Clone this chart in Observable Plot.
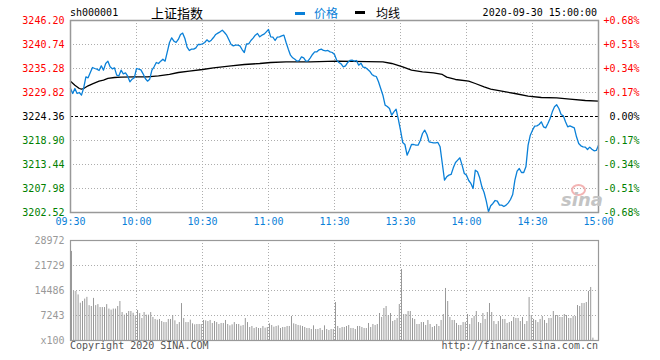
<!DOCTYPE html>
<html>
<head>
<meta charset="utf-8">
<script src="https://cdn.jsdelivr.net/npm/d3@7"></script>
<script src="https://cdn.jsdelivr.net/npm/@observablehq/plot@0.6"></script>
<style>
  body { margin: 0; background: #fff; }
  #wrap { position: relative; width: 660px; height: 360px; overflow: hidden; background: #fff; }
  #wrap > div.t { position: absolute; white-space: pre; }
  .mono { font-family: "DejaVu Sans Mono", monospace; font-size: 10px; line-height: 12px; }
  .cjk { font-family: "Noto Sans CJK SC", sans-serif; }
  #p1, #p2 { position: absolute; left: 0; }
  #p1 { top: 0; }
  #p2 { top: 232px; }
</style>
</head>
<body>
<div id="wrap">
  <div id="p1"></div>
  <div id="p2"></div>
  <div class="t mono" style="left:70px;top:7px;color:#000;">sh000001</div>
  <div class="t cjk" style="left:151px;top:4px;font-size:13px;line-height:18px;color:#000;">上证指数</div>
  <div class="t" style="left:295px;top:12px;width:10px;height:3px;background:#0a80d8;"></div>
  <div class="t cjk" style="left:314px;top:5px;font-size:12px;line-height:16px;color:#0a80d8;">价格</div>
  <div class="t" style="left:355px;top:11px;width:10px;height:3px;background:#000;"></div>
  <div class="t cjk" style="left:376px;top:5px;font-size:12px;line-height:16px;color:#000;">均线</div>
  <div class="t mono" style="right:63px;top:7px;color:#000;">2020-09-30 15:00:00</div>
  <div class="t mono" style="left:70px;top:340px;color:#555;">Copyright 2020 SINA.COM</div>
  <div class="t mono" style="right:62px;top:340px;color:#555;">http://finance.sina.com.cn</div>
  <div class="t" style="left:571px;top:184px;width:11px;height:8px;border-radius:50%;border:2px solid #f3b4b4;"></div>
  <div class="t" style="left:561px;top:190px;font-family:'DejaVu Sans',sans-serif;font-size:18px;font-weight:bold;font-style:italic;color:#c4c4c4;line-height:20px;">sina</div>
</div>
<script>
const preClose = 3224.36;
const priceTicks = [3202.52, 3207.98, 3213.44, 3218.90, 3224.36, 3229.82, 3235.28, 3240.74, 3246.20];
const pctLabels = ["-0.68%", "-0.51%", "-0.34%", "-0.17%", "0.00%", "+0.17%", "+0.34%", "+0.51%", "+0.68%"];
const timeTicks = [0, 30, 60, 90, 120, 150, 180, 210, 240];
const timeLabels = ["09:30", "10:00", "10:30", "11:00", "11:30", "13:30", "14:00", "14:30", "15:00"];
const volTicks = [0, 7243, 14486, 21729, 28972];
const volLabels = ["x100", "7243", "14486", "21729", "28972"];

// price per minute (index = minutes since 09:30, trading minutes only)
const price = [
3230.73, 3229.59, 3230.73, 3229.59, 3229.82, 3229.21, 3230.88, 3233.39, 3233.16, 3234.37,
3235.51, 3235.28, 3235.13, 3234.83, 3235.89, 3234.90, 3236.42, 3236.95, 3235.66, 3235.20,
3235.43, 3233.76, 3233.61, 3234.90, 3234.07, 3234.29, 3233.54, 3232.25, 3232.85, 3233.16,
3235.28, 3235.13, 3234.98, 3234.07, 3233.01, 3232.40, 3232.85, 3234.90, 3235.66, 3236.65,
3236.42, 3236.95, 3237.40, 3236.95, 3239.07, 3241.20, 3242.26, 3241.50, 3241.20, 3241.88,
3243.02, 3243.32, 3242.11, 3240.13, 3239.38, 3239.68, 3239.68, 3239.98, 3240.74, 3240.74,
3240.89,
3241.20, 3241.80, 3241.35, 3241.73, 3242.33, 3243.02, 3243.32, 3243.62, 3244.00, 3243.47,
3242.86, 3241.80, 3240.74, 3240.44, 3240.59, 3240.59, 3240.44, 3239.60, 3238.92, 3240.89,
3240.89, 3241.65, 3242.18, 3242.86, 3243.24, 3242.48, 3242.86, 3243.09, 3243.62, 3244.15,
3242.48, 3242.41, 3241.65, 3242.41, 3242.48, 3242.71, 3242.86, 3241.20, 3239.68, 3238.31,
3237.71, 3237.40, 3236.95, 3237.10, 3237.93, 3237.71, 3236.95, 3237.02, 3237.71, 3238.47,
3239.07, 3239.07, 3239.53, 3239.68, 3239.38, 3239.30, 3239.38, 3239.07, 3238.92, 3238.47,
3237.18, 3236.65, 3236.34, 3235.66, 3235.89, 3236.65, 3237.10, 3237.18, 3236.95, 3237.10,
3236.04, 3236.49, 3235.58, 3235.51, 3235.13, 3234.67, 3233.92, 3233.61, 3233.46, 3232.25,
3230.73, 3229.21, 3226.94, 3226.64, 3226.18, 3224.66, 3225.42, 3226.03, 3223.75, 3221.25,
3218.45, 3217.99, 3215.57, 3216.70, 3217.99, 3217.99, 3217.84, 3217.84, 3218.90, 3220.49,
3221.25, 3220.27, 3218.60, 3218.45, 3218.37, 3218.37, 3218.45, 3217.46, 3213.67, 3209.88,
3210.64, 3211.02, 3211.17, 3212.68, 3213.90, 3214.43, 3214.96, 3213.29, 3211.39, 3211.02,
3209.80, 3209.12, 3207.98, 3212.15, 3211.77, 3210.41, 3208.36, 3207.07, 3205.10, 3202.67,
3204.04, 3204.57, 3205.25, 3205.10, 3204.19, 3204.19, 3203.89, 3204.19, 3204.72, 3205.48,
3206.62, 3209.88, 3211.93, 3212.53, 3211.62, 3211.62, 3212.91, 3217.84, 3220.11, 3221.25,
3222.16, 3222.24, 3222.54, 3223.15, 3222.01, 3221.78, 3222.77, 3223.91, 3225.42, 3226.56,
3227.02, 3226.18, 3224.82, 3224.51, 3223.15, 3222.01, 3222.24, 3222.01, 3221.78, 3219.74,
3218.22, 3217.69, 3217.46, 3217.39, 3216.85, 3217.39, 3216.93, 3216.55, 3216.63, 3217.84
];

// average-price line, read at its turning points
const avgMinute = [0,2,4,5,6,8,10,13,15,17,20,23,29,35,40,45,49,54,60,65,73,79,86,91,98,109,121,142,146,151,155,160,165,169,171,175,181,184,188,191,196,202,208,214,221,227,234,240];
const avgPrice = [3232.40,3231.49,3230.73,3230.58,3230.73,3231.34,3231.79,3232.40,3232.63,3233.01,3233.23,3233.31,3233.39,3233.39,3233.61,3233.92,3234.37,3234.67,3235.05,3235.43,3235.89,3236.19,3236.42,3236.65,3236.80,3236.80,3236.95,3236.80,3236.42,3235.66,3234.90,3234.52,3234.29,3233.92,3233.31,3232.78,3232.40,3231.87,3231.11,3230.58,3230.12,3229.59,3228.99,3228.68,3228.61,3228.30,3228.00,3227.85];

// volume per minute (x100 shares)
const volume = [
25800, 14200, 14200, 13200, 10800, 11300, 12000, 12500, 10100, 9850,
12200, 10100, 10400, 9550, 9550, 9550, 10400, 9100, 8800, 9100,
9100, 9850, 11300, 8100, 7340, 7800, 8400, 8400, 7900, 7150,
8700, 7800, 6380, 8100, 7340, 7340, 8100, 6670, 6090, 5890,
6090, 5500, 5200, 5200, 6090, 6090, 7240, 5700, 4640, 5200,
10700, 6380, 5200, 5200, 5890, 4830, 4540, 4640, 4640, 4640,
5800, 5700, 5500, 5800, 4930, 5500, 5200, 4640, 4930, 4930,
5800, 4640, 4250, 4540, 5200, 4640, 4640, 4150, 4350, 6380,
5200, 3770, 4060, 3480, 3770, 3480, 3480, 4060, 3570, 3770,
4830, 4350, 3860, 4060, 4250, 3480, 3770, 3770, 4060, 4060,
6960, 4830, 4640, 4350, 4250, 4060, 3770, 3480, 3480, 3190,
4250, 3190, 3190, 3480, 2900, 4250, 3190, 2900, 3190, 3190,
11000, 4060, 3480, 3770, 3770, 4060, 4350, 3480, 3480, 3190,
4060, 4060, 3770, 3480, 3480, 4930, 3770, 4640, 4350, 4640,
7820, 6670, 9270, 9850, 7240, 7820, 5500, 5800, 6380, 10430,
20580, 7530, 7530, 8400, 8400, 6380, 6090, 4640, 4640, 5200,
5200, 4350, 5800, 4640, 3770, 4060, 4640, 4060, 5800, 7530,
15070, 11300, 6670, 5800, 5800, 4930, 4350, 4350, 5200, 5200,
7530, 4640, 6380, 6960, 8400, 5200, 4930, 7820, 6090, 8110,
10720, 8110, 5500, 4640, 5500, 6960, 6090, 6090, 4930, 5200,
5500, 6670, 6380, 6380, 5500, 6670, 4640, 5500, 12460, 7240,
6090, 5800, 5200, 6090, 6960, 5800, 4930, 6380, 6380, 8400,
7240, 7240, 6670, 6670, 7530, 7240, 6380, 6380, 6960, 6960,
10140, 9850, 10720, 10720, 11010, 14200, 15360, 680
];

const BLUE = "#0a80d8";
const GRID = "#adadad";
const DOT = "1,2";
const font = {fontFamily: "'DejaVu Sans Mono', monospace", fontSize: "10px", background: "transparent", overflow: "visible"};

const priceData = price.map((p, i) => ({m: i, p}));
const avgData = avgMinute.map((m, i) => ({m, p: avgPrice[i]}));
const volData = volume.map((v, i) => ({m: i, v}));
const idx = priceTicks.map((_, i) => i);
const innerTime = timeTicks.slice(1, -1);

const p1 = Plot.plot({
  width: 660, height: 232,
  marginLeft: 70, marginRight: 62, marginTop: 20, marginBottom: 20,
  style: font,
  x: {domain: [0, 240], axis: null},
  y: {domain: [3202.52, 3246.20], axis: null},
  marks: [
    Plot.ruleY(priceTicks.filter(v => v !== preClose && v !== priceTicks[0] && v !== priceTicks[priceTicks.length - 1]), {stroke: GRID, strokeDasharray: DOT}),
    Plot.ruleX(innerTime, {stroke: GRID, strokeDasharray: DOT}),
    Plot.ruleY([preClose], {stroke: "#000", strokeDasharray: "3,2"}),
    Plot.line(avgData, {x: "m", y: "p", stroke: "#000", strokeWidth: 1.3}),
    Plot.line(priceData, {x: "m", y: "p", stroke: BLUE, strokeWidth: 1.3}),
    Plot.frame({stroke: "#999", strokeWidth: 1.5}),
    Plot.text(priceTicks.filter(v => v > preClose), {y: d => d, text: d => d.toFixed(2), frameAnchor: "left", dx: -6, textAnchor: "end", fill: "#ff0000"}),
    Plot.text(priceTicks.filter(v => v === preClose), {y: d => d, text: d => d.toFixed(2), frameAnchor: "left", dx: -6, textAnchor: "end", fill: "#000"}),
    Plot.text(priceTicks.filter(v => v < preClose), {y: d => d, text: d => d.toFixed(2), frameAnchor: "left", dx: -6, textAnchor: "end", fill: "#008000"}),
    Plot.text(idx.filter(i => priceTicks[i] > preClose), {y: i => priceTicks[i], text: i => pctLabels[i], frameAnchor: "right", dx: 41, textAnchor: "end", fill: "#ff0000"}),
    Plot.text(idx.filter(i => priceTicks[i] === preClose), {y: i => priceTicks[i], text: i => pctLabels[i], frameAnchor: "right", dx: 41, textAnchor: "end", fill: "#000"}),
    Plot.text(idx.filter(i => priceTicks[i] < preClose), {y: i => priceTicks[i], text: i => pctLabels[i], frameAnchor: "right", dx: 41, textAnchor: "end", fill: "#008000"}),
    Plot.text(timeTicks, {x: d => d, text: (d, i) => timeLabels[i], frameAnchor: "bottom", dy: 12, fill: BLUE})
  ]
});
document.getElementById("p1").appendChild(p1);

const p2 = Plot.plot({
  width: 660, height: 128,
  marginLeft: 70, marginRight: 62, marginTop: 8, marginBottom: 20,
  style: font,
  x: {domain: [0, 240], axis: null},
  y: {domain: [0, 28972], axis: null},
  marks: [
    Plot.ruleY(volTicks.slice(1, -1), {stroke: GRID, strokeDasharray: DOT}),
    Plot.ruleX(innerTime, {stroke: GRID, strokeDasharray: DOT}),
    Plot.ruleX(volData, {x: "m", y1: 0, y2: "v", dx: 1, stroke: "#999", strokeWidth: 1}),
    Plot.frame({stroke: "#999", strokeWidth: 1.2}),
    Plot.text(volTicks, {y: d => d, text: (d, i) => volLabels[i], frameAnchor: "left", dx: -6, textAnchor: "end", fill: "#999"})
  ]
});
document.getElementById("p2").appendChild(p2);
</script>
</body>
</html>
